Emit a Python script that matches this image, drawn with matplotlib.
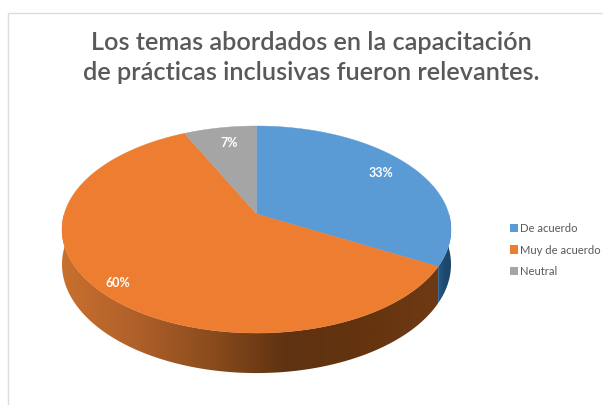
import numpy as np
import matplotlib
matplotlib.use("Agg")
import matplotlib.pyplot as plt
from matplotlib.colors import LinearSegmentedColormap
from matplotlib.patches import Patch, Polygon

categories = ["De acuerdo", "Muy de acuerdo", "Neutral"]
values = [33, 60, 7]
pct_labels = ["33%", "60%", "7%"]
colors = ["#5b9bd5", "#ed7d31", "#a5a5a5"]
title = "Los temas abordados en la capacitación\nde prácticas inclusivas fueron relevantes."

plt.rcParams["font.family"] = ["Lato", "DejaVu Sans"]

# pie geometry in image pixels, tilted with a bit of perspective
cx, cy = 256.5, 214
rx, ry = 192.3, 101.2
persp = 0.15
depth = 34


def rim(deg, r=1.0):
    # deg runs clockwise from 12 o'clock
    a = np.radians(deg)
    x = r * np.sin(a)
    y = r * np.cos(a)
    w = 1 + persp * y
    return cx + rx * x / w, cy - ry * y / w, w


fig = plt.figure(figsize=(6.03, 4.05), dpi=100)
ax = fig.add_axes([0, 0, 1, 1])
ax.set_xlim(0, 603)
ax.set_ylim(405, 0)
ax.axis("off")

# chart frame
ax.plot([603, 8, 8], [13, 13, 405], color="#dcdcdc", lw=1)

edges = np.cumsum([0] + values) * 3.6

side_cmaps = [
    LinearSegmentedColormap.from_list("blue", ["#2a5f8f", "#1d4a70", "#1c4466"]),
    LinearSegmentedColormap.from_list("orange", ["#c9702e", "#b0602a", "#8a4c1c", "#5f3212", "#64340f", "#6e3a14"]),
]

# side wall, only the front half of the rim shows
front = [(90, edges[1]), (edges[1], 270)]
wall_bounds = [(436, 452), (60, 438)]
for (a0, a1), cmap, (x0, x1) in zip(front, side_cmaps, wall_bounds):
    deg = np.linspace(a0, a1, 200)
    xs, ys, ws = rim(deg)
    lower = np.column_stack([xs, ys + depth / ws])
    upper = np.column_stack([xs, ys])
    wall = Polygon(np.vstack([upper, lower[::-1]]), closed=True, transform=ax.transData, fc="none", ec="none")
    ax.add_patch(wall)
    grad = np.linspace(0, 1, 256).reshape(1, -1)
    img = ax.imshow(grad, cmap=cmap, extent=[x0, x1, 380, 200], aspect="auto", zorder=1)
    img.set_clip_path(wall)
ax.set_xlim(0, 603)
ax.set_ylim(405, 0)

# top face
for i, color in enumerate(colors):
    deg = np.linspace(edges[i], edges[i + 1], 200)
    xs, ys, _ = rim(deg)
    pts = np.vstack([[cx, cy], np.column_stack([xs, ys])])
    ax.add_patch(Polygon(pts, closed=True, fc=color, ec=color, lw=0.3, zorder=2))

# data labels
label_r = [0.76, 0.9, 0.78]
label_dx = [6, 0, 2]
label_dy = [-4, 0, -2]
for i, txt in enumerate(pct_labels):
    mid = (edges[i] + edges[i + 1]) / 2
    lx, ly, _ = rim(mid, label_r[i])
    ax.text(lx + label_dx[i], ly + label_dy[i], txt, color="white", fontsize=9, fontweight="bold",
            ha="center", va="center", zorder=3)

ax.text(311.5, 57.5, title, color="#595959", fontsize=18.2, fontweight="semibold", ha="center", va="center",
        linespacing=1.35)

handles = [Patch(fc=c, ec="none") for c in colors]
ax.legend(handles, categories, loc="center left", bbox_to_anchor=(510 / 603, 1 - 250 / 405), frameon=False,
          fontsize=8.1, labelcolor="#595959", handlelength=0.75, handleheight=0.75, handletextpad=0.15,
          labelspacing=0.95, borderpad=0, borderaxespad=0)

fig.savefig("out.png", dpi=100)
